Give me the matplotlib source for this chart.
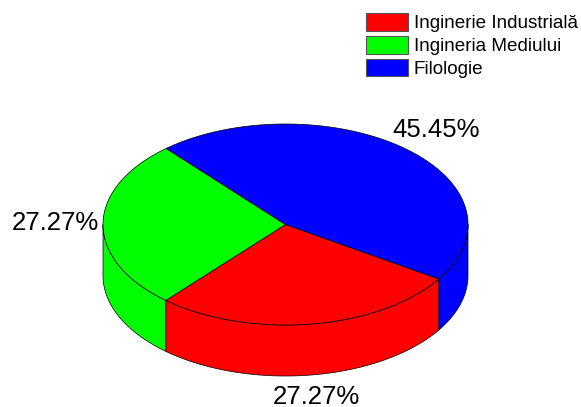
import numpy as np
import matplotlib
matplotlib.use('Agg')
import matplotlib.pyplot as plt
from matplotlib.patches import Patch

plt.rcParams['font.family'] = ['Liberation Sans', 'DejaVu Sans']

# Chart data
categories = ['Inginerie Industrială', 'Ingineria Mediului', 'Filologie']
shares = [27.27, 27.27, 45.45]
colors = ['#ff0000', '#00ff00', '#0000ff']

# Pie geometry, in image pixels
cx, cy = 285.5, 224.5
rx, ry = 182.5, 100.5
depth = 51
start_angle = -32.8
label_pos = [(316, 397), (55, 223.5), (436, 130)]


def arc(t0, t1, offset=0):
    t = np.radians(np.linspace(t0, t1, 200))
    return cx + rx * np.cos(t), cy - ry * np.sin(t) + offset


fig = plt.figure(figsize=(5.81, 4.07), dpi=100)
ax = fig.add_axes([0, 0, 1, 1])
ax.set_xlim(0, 581)
ax.set_ylim(407, 0)
ax.axis('off')

# Wedges run clockwise from the start angle
sweeps = np.array(shares) / sum(shares) * 360
ends = start_angle - np.cumsum(sweeps)
starts = ends + sweeps

# Side wall: only the front half of the ellipse is visible
for t0, t1, c in zip(starts, ends, colors):
    for lo, hi in [(-180, 0), (-540, -360)]:
        a = min(t0, hi)
        b = max(t1, lo)
        if a <= b:
            continue
        x1, y1 = arc(a, b)
        x2, y2 = arc(b, a, depth)
        ax.fill(np.r_[x1, x2], np.r_[y1, y2], facecolor=c, edgecolor='black', linewidth=0.5)

# Top face
for t0, t1, c in zip(starts, ends, colors):
    x, y = arc(t0, t1)
    ax.fill(np.r_[cx, x], np.r_[cy, y], facecolor=c, edgecolor='black', linewidth=0.5)

for share, (px, py) in zip(shares, label_pos):
    ax.text(px, py, f'{share:.2f}%', fontsize=18.5, color='black', ha='center', va='center')

handles = [Patch(facecolor=c, edgecolor='#555555', linewidth=0.8, label=n) for c, n in zip(colors, categories)]
ax.legend(handles=handles, loc='upper left', bbox_to_anchor=(366 / 581, 1 - 13 / 407), frameon=False,
          fontsize=13.6, handlelength=2.24, handleheight=1.05, handletextpad=0.28,
          labelspacing=0.2, borderpad=0, borderaxespad=0)

fig.savefig('out.png', dpi=100)
